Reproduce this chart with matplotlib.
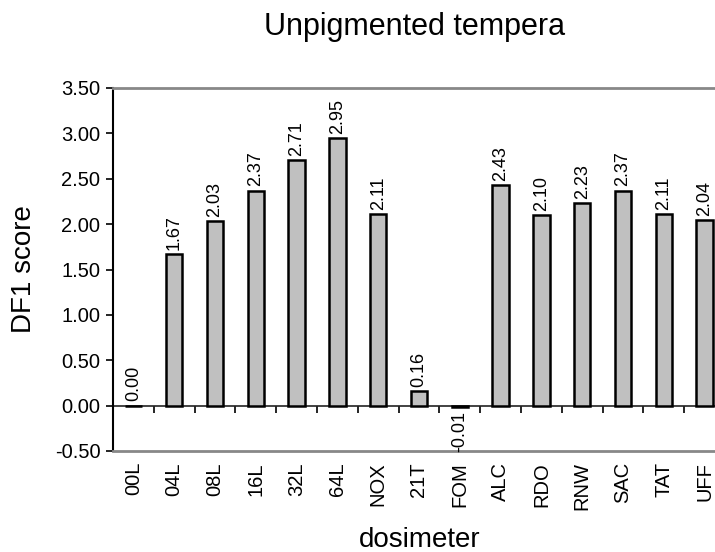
import matplotlib
matplotlib.use("Agg")
import matplotlib.pyplot as plt
import numpy as np

plt.rcParams['font.family'] = ['Liberation Sans', 'DejaVu Sans']

dosimeters = ['00L', '04L', '08L', '16L', '32L', '64L', 'NOX', '21T', 'FOM',
              'ALC', 'RDO', 'RNW', 'SAC', 'TAT', 'UFF']
df1_scores = [0.00, 1.67, 2.03, 2.37, 2.71, 2.95, 2.11, 0.16, -0.01,
              2.43, 2.10, 2.23, 2.37, 2.11, 2.04]
yticks = [-0.5, 0.0, 0.5, 1.0, 1.5, 2.0, 2.5, 3.0, 3.5]

fig = plt.figure(figsize=(7.15, 5.52), dpi=100)
# plot area runs a bit past the right edge, like the original export
ax = fig.add_axes([113 / 715, 101 / 552, 612 / 715, 363 / 552])

x = np.arange(len(dosimeters))
ax.bar(x, df1_scores, width=0.40, color='#c0c0c0', edgecolor='black',
       linewidth=1.8, zorder=3)

for xi, v in zip(x, df1_scores):
    if v < 0:
        ax.annotate('%.2f' % v, (xi, v), xytext=(0, -3), textcoords='offset points',
                    rotation=90, ha='center', va='top', fontsize=13)
    else:
        ax.annotate('%.2f' % v, (xi, v), xytext=(0, 3), textcoords='offset points',
                    rotation=90, ha='center', va='bottom', fontsize=13)

ax.set_xlim(-0.5, len(dosimeters) - 0.5)
ax.set_ylim(-0.5, 3.5)
ax.set_yticks(yticks)
ax.set_yticklabels(['%.2f' % t for t in yticks], fontsize=14.5)
ax.tick_params(axis='y', direction='out', length=5, width=1.2, pad=4)

ax.set_xticks(x)
ax.set_xticklabels(dosimeters, rotation=90, fontsize=14.5)
ax.tick_params(axis='x', length=0, pad=8)

ax.spines['left'].set_color('black')
ax.spines['left'].set_linewidth(1.5)
ax.spines['top'].set_color('#888888')
ax.spines['top'].set_linewidth(2)
ax.spines['bottom'].set_color('#888888')
ax.spines['bottom'].set_linewidth(2)
ax.spines['right'].set_visible(False)

# category axis crossing at zero
zero_frac = (0 - (-0.5)) / 4.0
sec = ax.secondary_xaxis(zero_frac)
sec.set_xticks(np.arange(0.5, len(dosimeters) - 0.5, 1.0))
sec.set_xticklabels([])
sec.tick_params(axis='x', direction='out', length=5, width=1.2)
sec.spines['bottom'].set_linewidth(1.2)
sec.spines['bottom'].set_color('#222222')

fig.text(415 / 715, 1 - 27 / 552, 'Unpigmented tempera', ha='center', va='center',
         fontsize=22)
fig.text(24 / 715, 1 - 269 / 552, 'DF1 score', ha='center', va='center',
         rotation=90, fontsize=20)
fig.text(420 / 715, 1 - 540 / 552, 'dosimeter', ha='center', va='center',
         fontsize=20)

fig.savefig('out.png', dpi=100)
